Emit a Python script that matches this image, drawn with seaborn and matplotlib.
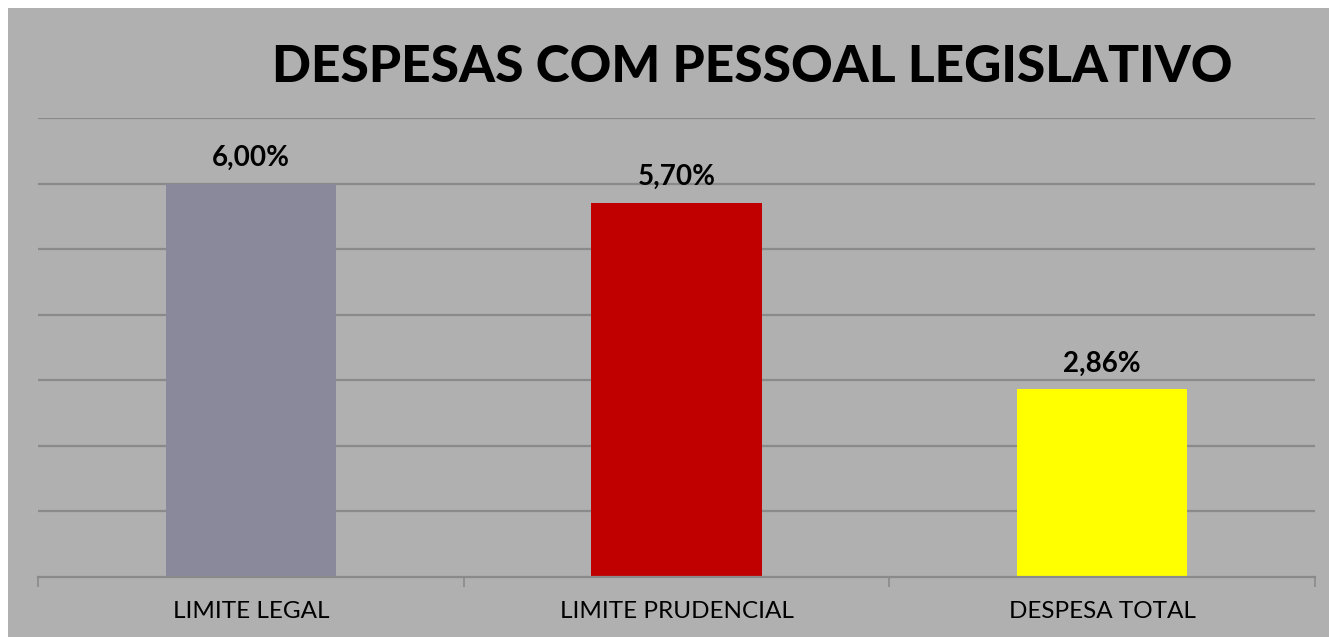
import seaborn as sns
import matplotlib.pyplot as plt
from matplotlib.patches import Rectangle
from matplotlib.ticker import FixedLocator

categorias = ['LIMITE LEGAL', 'LIMITE PRUDENCIAL', 'DESPESA TOTAL']
valores = [6.00, 5.70, 2.86]
rotulos = ['6,00%', '5,70%', '2,86%']
cores = ['#8A899C', '#C00000', '#FFFF00']

sns.set_style('white')
plt.rcParams['font.family'] = ['Lato', 'DejaVu Sans']
plt.rcParams['text.color'] = 'black'

fig = plt.figure(figsize=(13.29, 6.37), dpi=100)
fig.patch.set_facecolor('white')
fig.patches.append(Rectangle((8 / 1329, 0), 1 - 8 / 1329, 629 / 637,
                             transform=fig.transFigure, facecolor='#B0B0B0',
                             edgecolor='none', zorder=-10))

ax = fig.add_axes([38 / 1329, 1 - 577 / 637, (1315 - 38) / 1329, (577 - 118) / 637])
ax.set_facecolor('none')
ax.set_zorder(5)

sns.barplot(x=categorias, y=valores, hue=categorias, palette=cores,
            width=0.4, saturation=1, legend=False, linewidth=0, ax=ax)

ax.set_xlim(-0.5, 2.5)
ax.set_ylim(0, 7)
ax.set_yticks(range(1, 8))
ax.set_yticklabels([])
ax.tick_params(axis='y', length=0)
ax.yaxis.grid(True, color='#8A8A8A', linewidth=1.6)
ax.set_axisbelow(True)

for s in ['top', 'right', 'left']:
    ax.spines[s].set_visible(False)
ax.spines['bottom'].set_color('#8A8A8A')
ax.spines['bottom'].set_linewidth(1.6)

# marcas entre as categorias
ax.xaxis.set_minor_locator(FixedLocator([-0.5, 0.5, 1.5, 2.5]))
ax.tick_params(axis='x', which='minor', bottom=True, length=7, width=1.2,
               color='#8A8A8A', direction='out')
ax.tick_params(axis='x', which='major', length=0, pad=17, labelsize=17.5, labelcolor='black')

for i, (v, r) in enumerate(zip(valores, rotulos)):
    ax.annotate(r, (i, v), xytext=(0, 13), textcoords='offset points',
                ha='center', va='baseline', fontsize=20, fontweight='bold', color='black')

fig.text(752 / 1329, 1 - 68 / 637, 'DESPESAS COM PESSOAL LEGISLATIVO',
         ha='center', va='center', fontsize=37, fontweight='black', color='black')

fig.savefig('out.png', dpi=100)
